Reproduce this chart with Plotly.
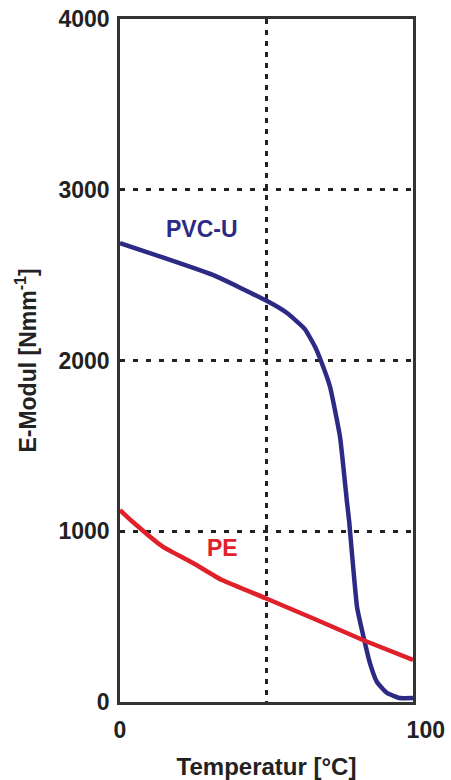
import plotly.graph_objects as go

# Temperature (°C) and elastic modulus (N/mm²) for two thermoplastics
pvc_temp = [0, 31.7, 50.2, 57.0, 63.1, 66.6, 68.6, 71.7, 75.1, 77.5, 78.2, 80.9, 83.6, 85.3, 87.7, 91.1, 95.6, 100]
pvc_mod = [2688, 2501, 2348, 2278, 2184, 2079, 1997, 1845, 1552, 1165, 1060, 556, 346, 228, 117, 53, 23, 23]

pe_temp = [0, 4.4, 14.7, 24.9, 34.8, 49.5, 67.2, 82.9, 100]
pe_mod = [1124, 1054, 908, 814, 714, 609, 480, 363, 246]

x_ticks = [0, 100]
x_ticktext = ["0", "\u00a0\u00a0\u00a0\u00a0100"]
x_grid = [50]
y_ticks = [0, 1000, 2000, 3000, 4000]

PVC_COLOR = "#2d2a86"
PE_COLOR = "#e0202a"
INK = "#222222"
FONT = "Liberation Sans, Arial, sans-serif"

fig = go.Figure()
fig.add_trace(go.Scatter(x=pvc_temp, y=pvc_mod, mode="lines",
                         line=dict(color=PVC_COLOR, width=4.5, shape="spline", smoothing=0.4),
                         showlegend=False))
fig.add_trace(go.Scatter(x=pe_temp, y=pe_mod, mode="lines",
                         line=dict(color=PE_COLOR, width=4.5, shape="spline", smoothing=0.4),
                         showlegend=False))

fig.add_annotation(x=28, y=2770, text="<b>PVC-U</b>", showarrow=False,
                   font=dict(family=FONT, size=23, color=PVC_COLOR))
fig.add_annotation(x=35, y=900, text="<b>PE</b>", showarrow=False,
                   font=dict(family=FONT, size=23, color=PE_COLOR))

fig.update_layout(
    width=451, height=780,
    margin=dict(l=120, r=38, t=19, b=78),
    paper_bgcolor="white", plot_bgcolor="white",
    font=dict(family=FONT, color=INK),
)

fig.update_xaxes(
    range=[0, 100], tickvals=x_ticks, ticktext=x_ticktext,
    showgrid=False, automargin=False,
    minor=dict(tickvals=x_grid, showgrid=True, gridcolor=INK, gridwidth=2.5,
               griddash="5px,6px", ticks=""),
    zeroline=False, showline=True, linecolor="#333333", linewidth=2.5, mirror=True,
    ticks="", ticklabelstandoff=6,
    tickfont=dict(family=FONT, size=23, color=INK, weight="bold"),
    title=dict(text="<b>Temperatur [°C]</b>", standoff=22,
               font=dict(family=FONT, size=24, color=INK)),
)
fig.update_yaxes(
    range=[0, 4000], tickvals=y_ticks, automargin=False,
    showgrid=True, gridcolor=INK, gridwidth=2.5, griddash="5px,8px",
    zeroline=False, showline=True, linecolor="#333333", linewidth=2.5, mirror=True,
    ticks="", ticklabelstandoff=3,
    tickfont=dict(family=FONT, size=23, color=INK, weight="bold"),
    title=dict(text="<b>E-Modul [Nmm<sup>-1</sup>]</b>", standoff=16,
               font=dict(family=FONT, size=23, color=INK)),
)

fig.write_html("out.html")
